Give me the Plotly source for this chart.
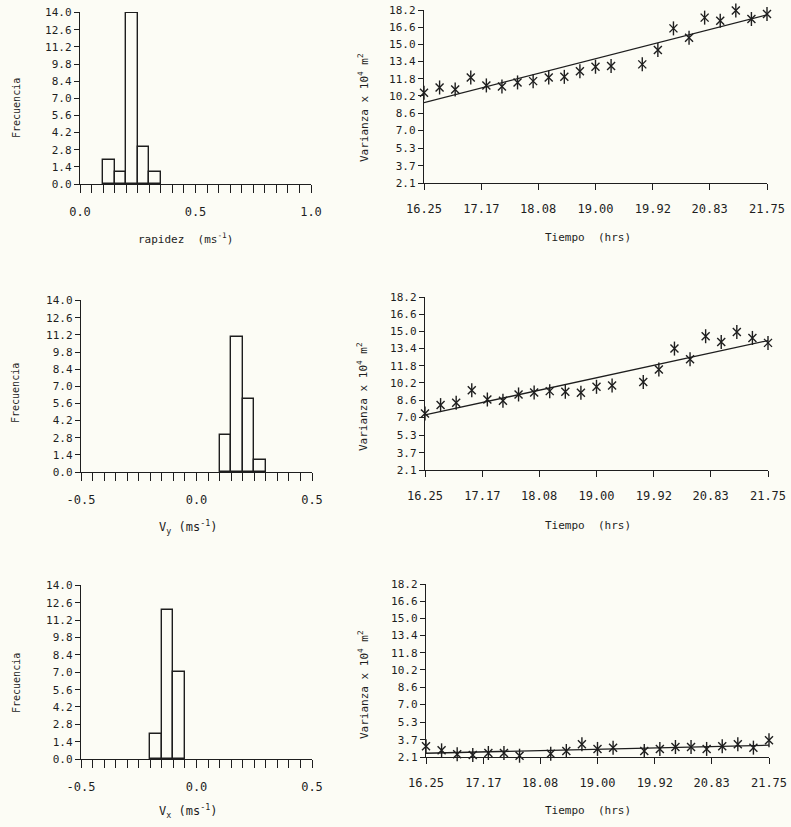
import plotly.graph_objects as go

W, H = 791, 827
FONT = "DejaVu Sans Mono"
INK = "#1e1e1e"
BG = "#fcfcf5"

# ---------------- data ----------------
# histogram bins (left edges) and counts, bin width 0.05
rap_bins = [0.10, 0.15, 0.20, 0.25, 0.30]
rap_counts = [2, 1, 14, 3, 1]
vy_bins = [0.10, 0.15, 0.20, 0.25]
vy_counts = [3, 11, 6, 1]
vx_bins = [-0.20, -0.15, -0.10]
vx_counts = [2, 12, 7]
bin_width = 0.05

hist_yticks = [0.0, 1.4, 2.8, 4.2, 5.6, 7.0, 8.4, 9.8, 11.2, 12.6, 14.0]
rap_xticks = [0.0, 0.5, 1.0]
v_xticks = [-0.5, 0.0, 0.5]

# time series (hrs) and variances
tiempo = [16.25, 16.50, 16.75, 17.00, 17.25, 17.50, 17.75, 18.00, 18.25, 18.50, 18.75,
          19.00, 19.25, 19.75, 20.00, 20.25, 20.50, 20.75, 21.00, 21.25, 21.50, 21.75]
var_rapidez = [10.49, 10.99, 10.80, 11.92, 11.18, 11.08, 11.46, 11.58, 11.92, 11.98, 12.51,
               12.92, 12.98, 13.14, 14.47, 16.49, 15.62, 17.49, 17.21, 18.15, 17.36, 17.83]
var_vy = [7.36, 8.14, 8.35, 9.53, 8.66, 8.54, 9.13, 9.31, 9.44, 9.38, 9.28,
          9.84, 9.96, 10.30, 11.45, 13.40, 12.41, 14.55, 14.02, 14.95, 14.39, 13.93]
var_vx = [3.09, 2.72, 2.35, 2.29, 2.47, 2.47, 2.22, 2.04, 2.41, 2.66, 3.28,
          2.85, 2.97, 2.66, 2.85, 3.03, 3.03, 2.85, 3.09, 3.28, 2.97, 3.65]

# fitted line end points
fit_t = [16.25, 21.75]
fit_rapidez = [9.58, 17.75]
fit_vy = [7.22, 14.15]
fit_vx = [2.45, 3.20]

time_ticks = [16.25, 17.17, 18.08, 19.00, 19.92, 20.83, 21.75]
time_ticklabels = ["16.25", "17.17", "18.08", "19.00", "19.92", "20.83", "21.75"]
var_ticks = [2.1, 3.7, 5.3, 7.0, 8.6, 10.2, 11.8, 13.4, 15.0, 16.6, 18.2]
var_ticklabels = ["2.1", "3.7", "5.3", "7.0", "8.6", "10.2", "11.8", "13.4", "15.0", "16.6", "18.2"]

# ---------------- layout helpers (positions given in page pixels) ----------------
def dx(x0, x1):
    return [x0 / W, x1 / W]

def dy(ytop, ybot):
    return [1 - ybot / H, 1 - ytop / H]

panels = [
    # (x-domain px, y-domain px)
    ((80, 311), (12, 184)),    # 1 TL
    ((424, 767), (10, 183)),   # 2 TR
    ((81, 312), (300, 472)),   # 3 ML
    ((425, 768), (297, 470)),  # 4 MR
    ((81, 312), (585, 759)),   # 5 BL
    ((426, 769), (584, 757)),  # 6 BR
]

fig = go.Figure()

def add_hist(idx, bins, counts):
    xs = [b + bin_width / 2 for b in bins]
    fig.add_trace(go.Bar(
        x=xs, y=counts, width=[bin_width] * len(xs),
        marker=dict(color="rgba(0,0,0,0)", line=dict(color=INK, width=1.4)),
        xaxis=f"x{idx}", yaxis=f"y{idx}", showlegend=False, hoverinfo="x+y"))

def add_series(idx, t, v, ft, fv):
    fig.add_trace(go.Scatter(x=ft, y=fv, mode="lines", line=dict(color=INK, width=1.3),
                             xaxis=f"x{idx}", yaxis=f"y{idx}", showlegend=False))
    for sym, sz in [("x-thin-open", 8), ("line-ns-open", 10)]:
        fig.add_trace(go.Scatter(
            x=t, y=v, mode="markers",
            marker=dict(symbol=sym, size=sz, line=dict(color=INK, width=1.4), color=INK),
            xaxis=f"x{idx}", yaxis=f"y{idx}", showlegend=False, cliponaxis=False))

add_hist(1, rap_bins, rap_counts)
add_series(2, tiempo, var_rapidez, fit_t, fit_rapidez)
add_hist(3, vy_bins, vy_counts)
add_series(4, tiempo, var_vy, fit_t, fit_vy)
add_hist(5, vx_bins, vx_counts)
add_series(6, tiempo, var_vx, fit_t, fit_vx)

layout = dict(
    width=W, height=H, margin=dict(l=0, r=0, t=0, b=0, autoexpand=False),
    paper_bgcolor=BG, plot_bgcolor=BG,
    font=dict(family=FONT, color=INK, size=11),
    bargap=0,
)

common_axis = dict(showgrid=False, zeroline=False, showline=True, linecolor=INK,
                   linewidth=1.4, ticks="outside", tickcolor=INK, tickwidth=1.3,
                   automargin=False, ticklabeloverflow="allow")

hist_ranges = {1: (0.0, 1.0, rap_xticks),
               3: (-0.5, 0.5, v_xticks),
               5: (-0.5, 0.5, v_xticks)}

for i, ((x0, x1), (yt, yb)) in enumerate(panels, start=1):
    xa = dict(common_axis, domain=dx(x0, x1), anchor=f"y{i}")
    ya = dict(common_axis, domain=dy(yt, yb), anchor=f"x{i}")
    if i in hist_ranges:
        lo, hi, lab = hist_ranges[i]
        xa.update(range=[lo, hi], tickmode="array", tickvals=lab,
                  ticktext=[f"{v:.1f}" for v in lab],
                  ticklen=8, tickfont=dict(size=12), ticklabelstandoff=8,
                  minor=dict(dtick=bin_width, tick0=lo, ticks="outside", ticklen=8,
                             tickwidth=1.3, tickcolor=INK, showgrid=False))
        ya.update(range=[0, 14.05], tickmode="array", tickvals=hist_yticks,
                  ticktext=[f"{v:.1f}" for v in hist_yticks], ticklen=5,
                  tickfont=dict(size=11))
    else:
        xa.update(range=[16.25, 21.75], tickmode="array", tickvals=time_ticks,
                  ticktext=time_ticklabels, ticklen=6, tickfont=dict(size=12),
                  ticklabelstandoff=8)
        ya.update(range=[2.1, 18.2], tickmode="array", tickvals=var_ticks,
                  ticktext=var_ticklabels, ticklen=5, tickfont=dict(size=11))
    key = "" if i == 1 else str(i)
    layout[f"xaxis{key}"] = xa
    layout[f"yaxis{key}"] = ya

fig.update_layout(**layout)

def ann(text, x, y, angle=0, size=11):
    fig.add_annotation(text=text, x=x / W, y=1 - y / H, xref="paper", yref="paper",
                       showarrow=False, textangle=angle, font=dict(size=size, family=FONT, color=INK),
                       xanchor="center", yanchor="middle")

# x-axis titles
ann("rapidez  (ms<sup>-1</sup>)", 185, 238)
ann("V<sub>y</sub> (ms<sup>-1</sup>)", 188, 527, size=12)
ann("V<sub>x</sub> (ms<sup>-1</sup>)", 188, 811, size=12)
for yy in (237, 525, 810):
    ann("Tiempo  (hrs)", 588, yy)

# y-axis titles
for yy in (108, 393, 683):
    ann("Frecuencia", 16, yy, angle=-90, size=10)
for yy in (108, 397, 685):
    ann("Varianza x 10<sup>4</sup> m<sup>2</sup>", 363, yy, angle=-90, size=11)

# remove the default page margin so the figure fills the window exactly
fig.write_html("out.html", config={"displayModeBar": False},
               post_script="document.body.style.margin='0';document.body.style.overflow='hidden';")
